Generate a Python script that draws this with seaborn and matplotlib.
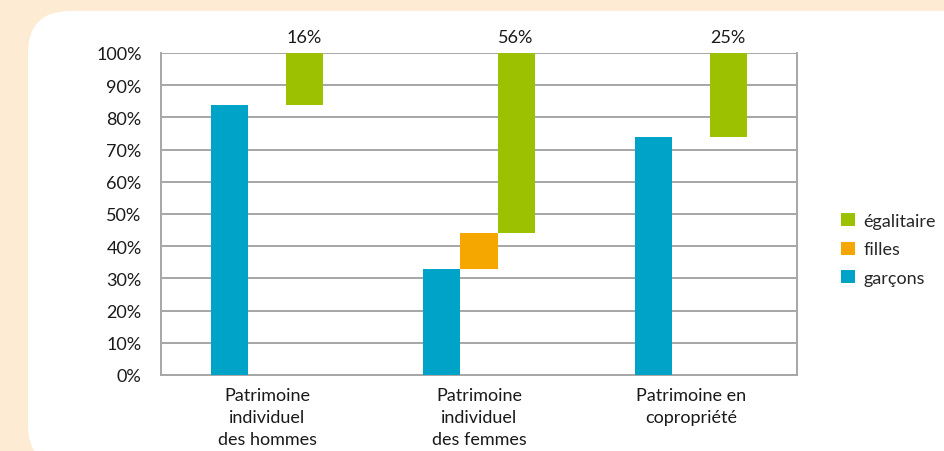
import matplotlib
matplotlib.use("Agg")
import matplotlib.pyplot as plt
import pandas as pd
import seaborn as sns
from matplotlib.patches import FancyBboxPatch

categories = [
    "Patrimoine\nindividuel\ndes hommes",
    "Patrimoine\nindividuel\ndes femmes",
    "Patrimoine en\ncopropriété",
]
series = ["garçons", "filles", "égalitaire"]
garcons = [84, 33, 74]
filles = [0, 11, 0]
egalitaire = [16, 56, 26]
top_labels = ["16%", "56%", "25%"]
colors = {"garçons": "#00A3C8", "filles": "#F5A700", "égalitaire": "#9BC100"}

# floating bars: each piece starts where the previous one ends
rows = []
for i, cat in enumerate(categories):
    bottom = 0
    for name, vals in zip(series, [garcons, filles, egalitaire]):
        rows.append(dict(category=cat, series=name, bottom=bottom, value=vals[i]))
        bottom += vals[i]
df = pd.DataFrame(rows)
df["top"] = df["bottom"] + df["value"]

sns.set_style("white")
plt.rcParams["font.family"] = ["Lato", "DejaVu Sans"]
FS = 13
TXT = "#1a1a1a"

fig = plt.figure(figsize=(9.44, 4.52), dpi=100)
fig.patch.set_facecolor("#FDEBD4")
W, H = 944, 452
# white rounded card behind the chart (in inches)
box = FancyBboxPatch(
    (0.28, -0.16), 12, 4.56,
    boxstyle="round,pad=0,rounding_size=0.42",
    transform=fig.dpi_scale_trans, facecolor="white", edgecolor="none",
    zorder=-5,
)
fig.patches.append(box)

ax = fig.add_axes([161 / W, 76 / H, 636 / W, 322 / H])
ax.set_facecolor("none")
sns.barplot(
    data=df, x="category", y="top", hue="series", hue_order=series,
    palette=colors, width=0.525, gap=0, linewidth=0, saturation=1,
    errorbar=None, ax=ax, zorder=3,
)
for container, name in zip(ax.containers, series):
    sub = df[df["series"] == name].reset_index(drop=True)
    for patch, (_, r) in zip(container.patches, sub.iterrows()):
        patch.set_y(r["bottom"])
        patch.set_height(r["value"])

# percentage labels above the égalitaire bars
for patch, lab in zip(ax.containers[2].patches, top_labels):
    ax.text(patch.get_x() + patch.get_width() / 2, 102.5, lab,
            ha="center", va="bottom", fontsize=FS, color=TXT)

ax.set_ylim(0, 100)
ax.set_yticks(range(0, 101, 10))
ax.set_yticklabels([f"{v}%" for v in range(0, 101, 10)], fontsize=FS, color=TXT)
ax.tick_params(axis="y", length=0, pad=14)
ax.tick_params(axis="x", length=0, pad=9, labelsize=FS, labelcolor=TXT)
for t in ax.get_xticklabels():
    t.set_linespacing(1.45)
ax.grid(axis="y", color="#A6A6A6", linewidth=1.4, zorder=0)
ax.set_axisbelow(True)
for s in ax.spines.values():
    s.set_color("#A6A6A6")
    s.set_linewidth(1.4)
ax.spines["top"].set_visible(False)
ax.set_xlabel("")
ax.set_ylabel("")

handles, labels = ax.get_legend_handles_labels()
ax.legend(
    handles[::-1], labels[::-1], loc="center left", bbox_to_anchor=(1.055, 0.39),
    frameon=False, fontsize=FS, handlelength=0.75, handleheight=0.75,
    handletextpad=0.5, labelspacing=0.68, borderpad=0,
)

fig.savefig("out.png", dpi=100, facecolor=fig.get_facecolor())
